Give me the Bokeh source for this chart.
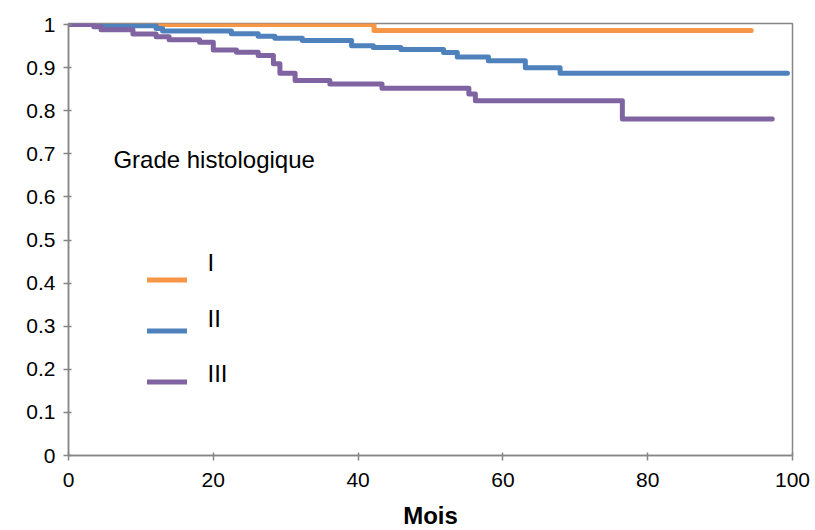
from bokeh.plotting import figure
from bokeh.models import Range1d, Legend, LegendItem, Label, FixedTicker
from bokeh.core.properties import value
from bokeh.embed import file_html
from bokeh.resources import INLINE

# ---- data ----
months_I = [0, 42.2, 94.3]
surv_I = [1.0, 0.986, 0.986]

months_II = [0, 4.5, 12.1, 13.0, 22.5, 26.2, 28.5, 32.3, 39.1, 42.1, 45.9,
             51.8, 53.7, 58.0, 63.1, 67.9, 99.3]
surv_II = [1.0, 0.997, 0.991, 0.985, 0.979, 0.973, 0.968, 0.963, 0.951, 0.947,
           0.942, 0.935, 0.925, 0.916, 0.900, 0.887, 0.887]

months_III = [0, 3.5, 4.5, 8.9, 12.1, 13.9, 18.1, 20.0, 23.2, 26.2, 28.3, 29.2,
              31.3, 36.1, 43.3, 55.3, 56.2, 76.5, 97.2]
surv_III = [1.0, 0.995, 0.988, 0.978, 0.972, 0.965, 0.959, 0.941, 0.936, 0.928,
            0.909, 0.887, 0.870, 0.862, 0.852, 0.839, 0.823, 0.781, 0.781]

series_names = ["I", "II", "III"]
colors = ["#F79646", "#4F81BD", "#8064A2"]
x_ticks = [0, 20, 40, 60, 80, 100]
y_ticks = [0, 0.1, 0.2, 0.3, 0.4, 0.5, 0.6, 0.7, 0.8, 0.9, 1]

FONT = "Liberation Sans"
GRAY = "#868686"

p = figure(width=815, height=530, output_backend="svg", toolbar_location=None,
           x_range=Range1d(0, 100), y_range=Range1d(0, 1.0025),
           min_border_left=68, min_border_right=23, min_border_top=23,
           min_border_bottom=75)
p.frame_width = 724
p.frame_height = 432

p.grid.visible = False
p.outline_line_color = GRAY
p.outline_line_width = 1.5
p.background_fill_color = "white"
p.border_fill_color = "white"

renderers = []
for xs, ys, c in [(months_I, surv_I, colors[0]),
                  (months_II, surv_II, colors[1]),
                  (months_III, surv_III, colors[2])]:
    r = p.step(xs, ys, mode="after", line_color=c, line_width=5,
               line_join="round", line_cap="round")
    renderers.append(r)

for ax in (p.xaxis[0], p.yaxis[0]):
    ax.axis_line_color = GRAY
    ax.axis_line_width = 1.5
    ax.major_tick_line_color = GRAY
    ax.major_tick_line_width = 1.5
    ax.major_tick_out = 5
    ax.major_tick_in = 3
    ax.minor_tick_line_color = None
    ax.major_label_text_font = FONT
    ax.major_label_text_font_size = "21px"
    ax.major_label_text_color = "black"

p.xaxis.ticker = FixedTicker(ticks=x_ticks)
p.yaxis.ticker = FixedTicker(ticks=y_ticks)
p.yaxis.major_label_overrides = {0: "0", 1: "1"}
p.xaxis.major_label_standoff = 12
p.yaxis.major_label_standoff = 8

p.xaxis.axis_label = "Mois"
p.xaxis.axis_label_text_font = FONT
p.xaxis.axis_label_text_font_style = "bold"
p.xaxis.axis_label_text_font_size = "24px"
p.xaxis.axis_label_text_color = "black"
p.xaxis.axis_label_standoff = 12

# legend swatches (text drawn separately, above-right of each swatch as in the reference)
items = [LegendItem(label=value(""), renderers=[r]) for r in renderers]
legend = Legend(items=items, location=(79, 63), orientation="vertical",
                padding=0, margin=0, spacing=30, glyph_width=40, glyph_height=21,
                label_height=21, label_standoff=0, label_width=0,
                border_line_color=None, background_fill_alpha=0)
p.add_layout(legend, "center")

title = Label(x=6.2, y=0.687, text="Grade histologique", text_font=FONT,
              text_font_size="24px", text_baseline="middle", text_color="black")
p.add_layout(title)

label_y = [0.449, 0.317, 0.191]
for name, ly in zip(series_names, label_y):
    p.add_layout(Label(x=19.2, y=ly, text=name, text_font=FONT,
                       text_font_size="24px", text_baseline="middle",
                       text_color="black"))

open("out.html", "w").write(file_html(p, INLINE))
